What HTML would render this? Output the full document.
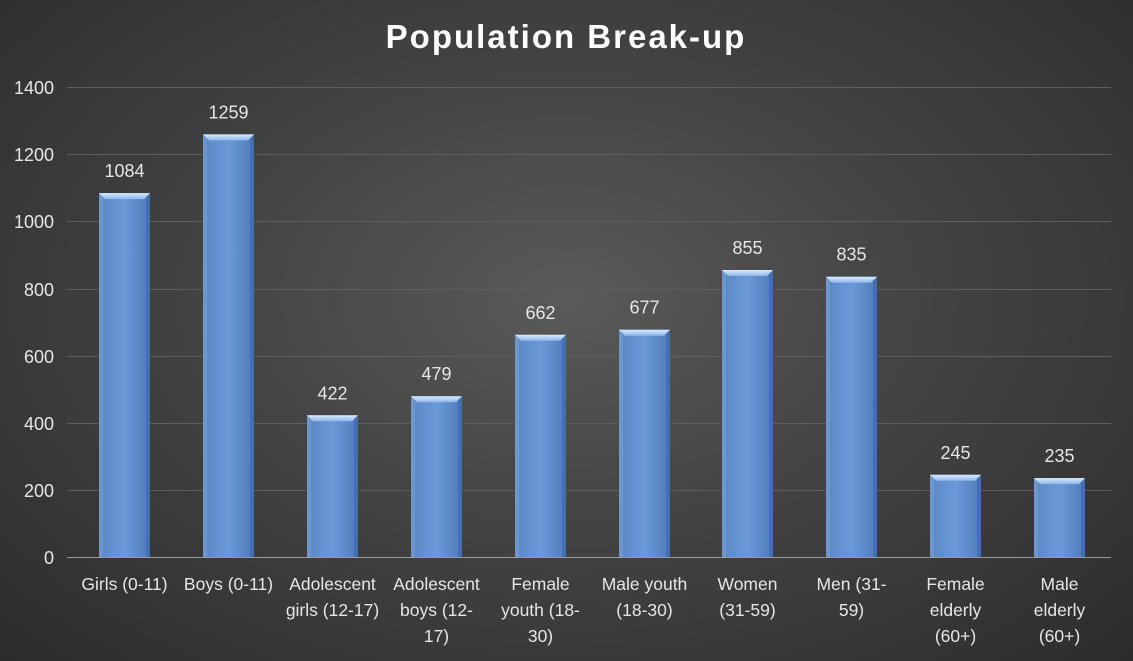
<!DOCTYPE html>
<html><head><style>
html,body{margin:0;padding:0;width:1133px;height:661px;overflow:hidden}
body{background:radial-gradient(ellipse at 50% 45%,#5a5a5a 0%,#454545 40%,#2c2c2c 100%);font-family:"Liberation Sans",sans-serif}
</style></head><body>
<svg width="1133" height="661" xmlns="http://www.w3.org/2000/svg" style="position:absolute;left:0;top:0">
<defs>
<linearGradient id="bg" x1="0" y1="0" x2="1" y2="0">
<stop offset="0" stop-color="#5a86c4"/><stop offset="0.5" stop-color="#6c9ad8"/><stop offset="1" stop-color="#4f7ab8"/>
</linearGradient>
<linearGradient id="bv" x1="0" y1="0" x2="0" y2="1">
<stop offset="0" stop-color="#d8ecff"/><stop offset="1" stop-color="#8fb6ea"/>
</linearGradient>
<g id="cap"><polygon points="0,0 51,0 45,6 6,6" fill="url(#bv)"/></g>
</defs>
<text x="566" y="48" text-anchor="middle" font-family="Liberation Sans, sans-serif" font-weight="bold" font-size="33" fill="#fff" letter-spacing="2">Population Break-up</text>
<g stroke="#5e5e5e" stroke-width="1">
<line x1="67" x2="1111" y1="87.5" y2="87.5"/>
<line x1="67" x2="1111" y1="154.5" y2="154.5"/>
<line x1="67" x2="1111" y1="221.5" y2="221.5"/>
<line x1="67" x2="1111" y1="289.5" y2="289.5"/>
<line x1="67" x2="1111" y1="356.5" y2="356.5"/>
<line x1="67" x2="1111" y1="423.5" y2="423.5"/>
<line x1="67" x2="1111" y1="490.5" y2="490.5"/>
</g>
<g font-size="18" fill="#e6e6e6" text-anchor="end">
<text x="54" y="94">1400</text><text x="54" y="161">1200</text><text x="54" y="228">1000</text>
<text x="54" y="296">800</text><text x="54" y="363">600</text><text x="54" y="430">400</text>
<text x="54" y="497">200</text><text x="54" y="564">0</text>
</g>
<g font-size="18" fill="#e6e6e6" text-anchor="middle">
<g transform="translate(99,193.1)"><rect width="51" height="363.9" fill="url(#bg)"/><rect width="4" height="363.9" fill="#7ea6dc" opacity="0.5"/><rect x="47" width="4" height="363.9" fill="#3f66a0" opacity="0.6"/><use href="#cap"/><text x="25.5" y="-16">1084</text></g>
<g transform="translate(203,134.4)"><rect width="51" height="422.6" fill="url(#bg)"/><rect width="4" height="422.6" fill="#7ea6dc" opacity="0.5"/><rect x="47" width="4" height="422.6" fill="#3f66a0" opacity="0.6"/><use href="#cap"/><text x="25.5" y="-16">1259</text></g>
<g transform="translate(307,415.3)"><rect width="51" height="141.7" fill="url(#bg)"/><rect width="4" height="141.7" fill="#7ea6dc" opacity="0.5"/><rect x="47" width="4" height="141.7" fill="#3f66a0" opacity="0.6"/><use href="#cap"/><text x="25.5" y="-16">422</text></g>
<g transform="translate(411,396.2)"><rect width="51" height="160.8" fill="url(#bg)"/><rect width="4" height="160.8" fill="#7ea6dc" opacity="0.5"/><rect x="47" width="4" height="160.8" fill="#3f66a0" opacity="0.6"/><use href="#cap"/><text x="25.5" y="-16">479</text></g>
<g transform="translate(515,334.8)"><rect width="51" height="222.2" fill="url(#bg)"/><rect width="4" height="222.2" fill="#7ea6dc" opacity="0.5"/><rect x="47" width="4" height="222.2" fill="#3f66a0" opacity="0.6"/><use href="#cap"/><text x="25.5" y="-16">662</text></g>
<g transform="translate(619,329.7)"><rect width="51" height="227.3" fill="url(#bg)"/><rect width="4" height="227.3" fill="#7ea6dc" opacity="0.5"/><rect x="47" width="4" height="227.3" fill="#3f66a0" opacity="0.6"/><use href="#cap"/><text x="25.5" y="-16">677</text></g>
<g transform="translate(722,270)"><rect width="51" height="287" fill="url(#bg)"/><rect width="4" height="287" fill="#7ea6dc" opacity="0.5"/><rect x="47" width="4" height="287" fill="#3f66a0" opacity="0.6"/><use href="#cap"/><text x="25.5" y="-16">855</text></g>
<g transform="translate(826,276.7)"><rect width="51" height="280.3" fill="url(#bg)"/><rect width="4" height="280.3" fill="#7ea6dc" opacity="0.5"/><rect x="47" width="4" height="280.3" fill="#3f66a0" opacity="0.6"/><use href="#cap"/><text x="25.5" y="-16">835</text></g>
<g transform="translate(930,474.8)"><rect width="51" height="82.2" fill="url(#bg)"/><rect width="4" height="82.2" fill="#7ea6dc" opacity="0.5"/><rect x="47" width="4" height="82.2" fill="#3f66a0" opacity="0.6"/><use href="#cap"/><text x="25.5" y="-16">245</text></g>
<g transform="translate(1034,478.1)"><rect width="51" height="78.9" fill="url(#bg)"/><rect width="4" height="78.9" fill="#7ea6dc" opacity="0.5"/><rect x="47" width="4" height="78.9" fill="#3f66a0" opacity="0.6"/><use href="#cap"/><text x="25.5" y="-16">235</text></g>
</g>
<g font-size="17.5" fill="#e6e6e6" text-anchor="middle">
<text x="124.5" y="590">Girls (0-11)</text>
<text x="228.5" y="590">Boys (0-11)</text>
<text x="332.5" y="590">Adolescent</text><text x="332.5" y="616">girls (12-17)</text>
<text x="436.5" y="590">Adolescent</text><text x="436.5" y="616">boys (12-</text><text x="436.5" y="642">17)</text>
<text x="540.5" y="590">Female</text><text x="540.5" y="616">youth (18-</text><text x="540.5" y="642">30)</text>
<text x="644.5" y="590">Male youth</text><text x="644.5" y="616">(18-30)</text>
<text x="747.5" y="590">Women</text><text x="747.5" y="616">(31-59)</text>
<text x="851.5" y="590">Men (31-</text><text x="851.5" y="616">59)</text>
<text x="955.5" y="590">Female</text><text x="955.5" y="616">elderly</text><text x="955.5" y="642">(60+)</text>
<text x="1059.5" y="590">Male</text><text x="1059.5" y="616">elderly</text><text x="1059.5" y="642">(60+)</text>
</g>
<line x1="67" x2="1111" y1="557.5" y2="557.5" stroke="#9a9a9a" stroke-width="1"/>
</svg>
</body></html>
